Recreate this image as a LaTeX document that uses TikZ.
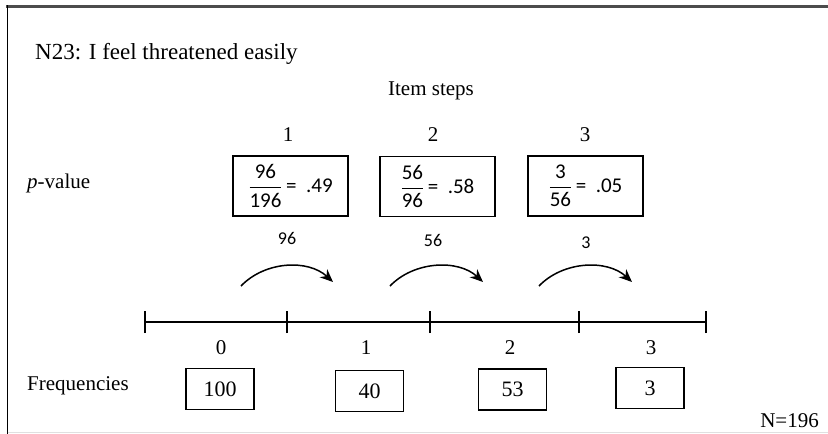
\documentclass[tikz,border=0pt]{standalone}
\usepackage{amsmath}
\usepackage{fontspec}
\setmainfont{Liberation Serif}
\newfontfamily\calib{Carlito}
\usetikzlibrary{arrows.meta}
\tikzset{
  lbl/.style={inner sep=0pt, font=\fontsize{21}{25}\selectfont},
  pbox/.style={draw, line width=1.8pt, minimum width=115pt, minimum height=60pt, inner sep=0pt, font=\calib\fontsize{21}{24}\selectfont},
  fbox/.style={draw, line width=1.8pt, minimum width=68pt, minimum height=41pt, inner sep=0pt, font=\fontsize{22}{26}\selectfont},
  axis/.style={line width=1.7pt},
  jump/.style={line width=1.5pt, -{Stealth[length=13pt,width=11pt]}},
  jlbl/.style={inner sep=0pt, font=\calib\fontsize{18}{21}\selectfont},
}
\newcommand{\pfrac}[2]{$\displaystyle\frac{\text{#1}}{\text{#2}}$}
\begin{document}
\begin{tikzpicture}[x=1pt,y=-1pt]
\useasboundingbox (0,0) rectangle (828,434);
\fill[white] (0,0) rectangle (828,434);
% frame
\draw[line width=3pt, black!70] (6,6.5) -- (828,6.5);
\draw[line width=1.8pt] (7.5,5) -- (7.5,434);
\draw[line width=0.6pt, black!12] (7.5,432.5) -- (828,432.5);

% title and headings
\node[lbl, anchor=base west, font=\fontsize{23}{27}\selectfont] (title) at (35,59) {N23: I feel threatened easily};
\node[lbl] (items) at (431,91) {Item steps};
\node[lbl] (s1) at (288,135) {1};
\node[lbl] (s2) at (433,135) {2};
\node[lbl] (s3) at (585,135) {3};
\node[lbl, anchor=west] (pv) at (27,183) {\textit{p}-value};

% p-value boxes
\node[pbox] (b1) at (290.5,186) {\pfrac{96}{196}\,= \ .49};
\node[pbox] (b2) at (437.5,186.5) {\pfrac{56}{96}\,= \ .58};
\node[pbox] (b3) at (585.5,186) {\pfrac{3}{56}\,= \ .05};

% jump labels
\node[jlbl] (j1) at (287,238) {96};
\node[jlbl] (j2) at (433,240) {56};
\node[jlbl] (j3) at (586,243) {3};

% arcs
\coordinate (a1s) at (241,286); \coordinate (a1e) at (333,282);
\coordinate (a2s) at (390,286); \coordinate (a2e) at (483,282);
\coordinate (a3s) at (539,286); \coordinate (a3e) at (632,282);
\draw[jump] (a1s) .. controls (265,261) and (308,259) .. (a1e);
\draw[jump] (a2s) .. controls (414,261) and (458,259) .. (a2e);
\draw[jump] (a3s) .. controls (563,261) and (607,259) .. (a3e);

% number line
\coordinate (t0) at (145,322);
\coordinate (t1) at (287,322);
\coordinate (t2) at (430,322);
\coordinate (t3) at (579,322);
\coordinate (t4) at (706,322);
\draw[axis] (t0) -- (t4);
\foreach \t in {t0,t1,t2,t3,t4}
  \draw[axis] ([yshift=-11pt]\t) -- ([yshift=11pt]\t);

% category labels
\node[lbl] (c0) at (221,348) {0};
\node[lbl] (c1) at (366,348) {1};
\node[lbl] (c2) at (510,348) {2};
\node[lbl] (c3) at (651,348) {3};

% frequencies
\node[lbl, anchor=west] (fr) at (27,386) {Frequencies};
\node[fbox] (f0) at (220,389) {100};
\node[fbox] (f1) at (369.5,391) {40};
\node[fbox] (f2) at (512.5,389.5) {53};
\node[fbox] (f3) at (650,388) {3};

\node[lbl, anchor=east] (n) at (819,421) {N=196};
\end{tikzpicture}
\end{document}
